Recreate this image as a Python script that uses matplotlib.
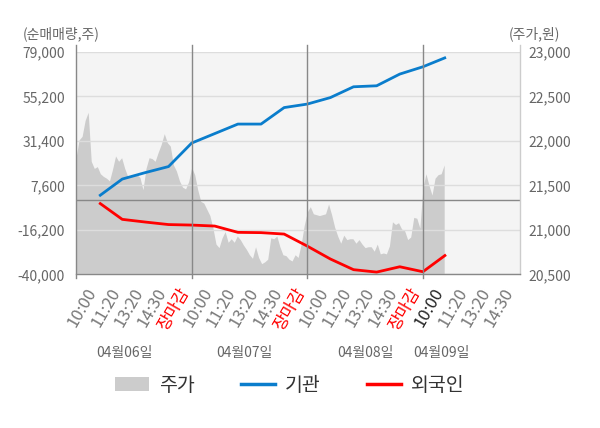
import matplotlib
matplotlib.use('Agg')
import numpy as np
import matplotlib.pyplot as plt
from matplotlib.patches import Patch
from matplotlib.lines import Line2D
import matplotlib.transforms as mtransforms

plt.rcParams['font.family'] = ['Noto Sans CJK KR', 'DejaVu Sans']

# categories
dates = ['04월06일', '04월07일', '04월08일', '04월09일']
times = ['10:00', '11:20', '13:20', '14:30', '장마감']
last_times = ['10:00', '11:20', '13:20', '14:30']

# 주가 (intraday, per day)
price_d1 = [21810, 22010, 22050, 22230, 22320, 21770, 21690, 21710, 21630, 21600,
            21580, 21550, 21680, 21830, 21770, 21810, 21690, 21600, 21600, 21620,
            21620, 21590, 21450, 21690, 21810, 21800, 21770, 21870, 21960, 22080,
            21980, 21940, 21730, 21660, 21550, 21480, 21460, 21540]
price_d2 = [21700, 21620, 21450, 21320, 21300, 21230, 21160, 21020, 20840, 20800,
            20910, 20980, 20860, 20900, 20860, 20930, 20890, 20830, 20780, 20720,
            20680, 20810, 20690, 20620, 20640, 20670, 20910, 20900, 20930, 20810,
            20720, 20710, 20670, 20650, 20720, 20690, 20840, 21050]
price_d3 = [21200, 21260, 21180, 21170, 21160, 21170, 21180, 21290, 21170, 21030,
            20930, 20850, 20940, 20890, 20900, 20900, 20850, 20890, 20840, 20800,
            20810, 20810, 20760, 20840, 20730, 20740, 20730, 20820, 21090, 21060,
            21080, 21010, 20990, 20890, 20920, 21140, 21130, 21020]
price_d4 = [21470, 21630, 21500, 21390, 21580, 21620, 21630, 21730]

# 누적 순매매량 (기관, 외국인) at each time tick
inst = [1860, 10950, 14420, 17630, 30190, 35270, 40350, 40350, 49170, 51040,
        54520, 60290, 60820, 67080, 70980, 76010]
frgn = [-1725, -10600, -12040, -13380, -13650, -14180, -17550, -17700, -18460, -24900,
        -31800, -37500, -38800, -35940, -38600, -29500]

vol_ticks = [79000, 55200, 31400, 7600, -16200, -40000]
price_ticks = [20500, 21000, 21500, 22000, 22500, 23000]

fig = plt.figure(figsize=(6, 4.28), dpi=100)
ax2 = fig.add_axes([0.1267, 0.359, 0.74, 0.52])
ax = ax2.twinx()
ax.set_zorder(2)
ax.patch.set_visible(False)
ax2.set_zorder(1)
ax2.set_facecolor('#f4f4f4')

day_len = 5
spd = len(price_d1)
px, py = [], []
for d, arr in enumerate([price_d1, price_d2, price_d3, price_d4]):
    for i, v in enumerate(arr):
        px.append(d * day_len + i * day_len / spd)
        py.append(v)
ax2.fill_between(px, py, 20500, color='#cccccc', lw=0)

xl = np.arange(1, len(inst) + 1)
ax.plot(xl, inst, color='#0a7dcc', lw=2, solid_capstyle='butt')
ax.plot(xl, frgn, color='#ff0000', lw=2, solid_capstyle='butt')

xmax = 19.2
for a in (ax, ax2):
    a.set_xlim(0, xmax)
    for s in a.spines.values():
        s.set_visible(False)
    a.tick_params(length=0, colors='#666666', labelsize=10)

ax.set_ylim(-40000, 79000)
ax2.set_ylim(20500, 23000)
# volume axis on the left, price on the right
ax.yaxis.tick_left()
ax2.yaxis.tick_right()
ax.set_yticks(vol_ticks)
ax.set_yticklabels([f'{v:,}' for v in vol_ticks])
ax2.set_yticks(price_ticks)
ax2.set_yticklabels([f'{v:,}' for v in price_ticks])
ax.tick_params(axis='y', pad=8)
ax2.tick_params(axis='y', pad=6)

ax.grid(axis='y', color='#dddddd', lw=1)
ax.axhline(0, color='#888888', lw=1)

# x labels
tick_pos = list(range(1, 16)) + [16, 17, 18, 19]
tick_lab = times * 3 + last_times
ax2.set_xticks(tick_pos)
ax2.set_xticklabels(tick_lab, rotation=60, ha='right', va='top')
ax2.tick_params(axis='x', pad=7.5, labelsize=12)
off = mtransforms.ScaledTranslation(1 / 72, 0, fig.dpi_scale_trans)
for k, t in enumerate(ax2.get_xticklabels()):
    t.set_transform(t.get_transform() + off)
    if t.get_text() == '장마감':
        t.set_color('#ff0000')
    elif k == 15:
        t.set_color('#222222')
    else:
        t.set_color('#777777')

# frame and day dividers
xt = ax.get_xaxis_transform()
ax.plot([0, 0], [-0.018, 1.031], transform=xt, color='#888888', lw=1, clip_on=False)
ax.plot([xmax, xmax], [0, 1.031], transform=xt, color='#cccccc', lw=1, clip_on=False)
ax.plot([0, xmax], [0, 0], transform=xt, color='#888888', lw=1, clip_on=False)
for d in (5, 10, 15):
    ax.plot([d, d], [-0.018, 1.031], transform=xt, color='#888888', lw=1, clip_on=False)

date_pos = [2.1, 7.3, 12.5, 15.8]
for p, s in zip(date_pos, dates):
    ax.text(p, -0.354, s, transform=xt, ha='center', va='center',
            fontsize=10, color='#666666')

fig.text(0.038, 0.922, '(순매매량,주)', fontsize=10, color='#666666', va='center')
fig.text(0.848, 0.922, '(주가,원)', fontsize=10, color='#666666', va='center')

handles = [Patch(facecolor='#cccccc', edgecolor='none'),
           Line2D([], [], color='#0a7dcc', lw=2.5),
           Line2D([], [], color='#ff0000', lw=2.5)]
fig.legend(handles, ['주가', '기관', '외국인'], loc='center', ncol=3,
           bbox_to_anchor=(0.483, 0.1), frameon=False, fontsize=14,
           handlelength=1.75, handleheight=0.8, columnspacing=2.4,
           handletextpad=0.5, labelcolor='#333333')

fig.savefig('out.png', dpi=100)
